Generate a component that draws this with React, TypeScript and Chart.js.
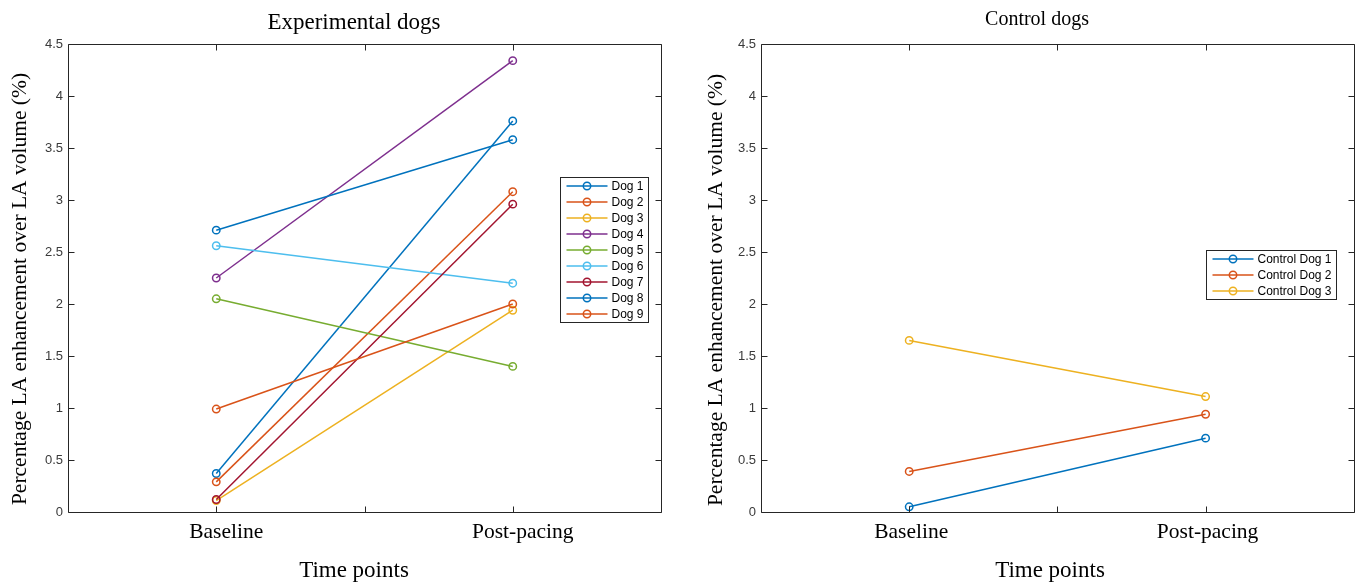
import React, { useEffect, useRef } from 'react';
import { Chart, registerables } from 'chart.js';

Chart.register(...registerables);

// ---- Data ----
const timeValues = [1, 2];
const xTickValues = [1, 1.5, 2];
const xTickLabels = ['Baseline', '', 'Post-pacing'];
const yMin = 0;
const yMax = 4.5;
const yStep = 0.5;

const expLabels = ['Dog 1', 'Dog 2', 'Dog 3', 'Dog 4', 'Dog 5', 'Dog 6', 'Dog 7', 'Dog 8', 'Dog 9'];
const expBaseline = [0.37, 0.29, 0.11, 2.25, 2.05, 2.56, 0.12, 2.71, 0.99];
const expPost = [3.76, 3.08, 1.94, 4.34, 1.4, 2.2, 2.96, 3.58, 2.0];

const ctrlLabels = ['Control Dog 1', 'Control Dog 2', 'Control Dog 3'];
const ctrlBaseline = [0.05, 0.39, 1.65];
const ctrlPost = [0.71, 0.94, 1.11];

const seriesColors = ['#0072BD', '#D95319', '#EDB120', '#7E2F8E', '#77AC30', '#4DBEEE', '#A2142F'];

const yAxisTitle = 'Percentage LA enhancement over LA volume (%)';
const xAxisTitle = 'Time points';

const SERIF = '"Liberation Serif", "Times New Roman", serif';
const SANS = '"Liberation Sans", Arial, Helvetica, sans-serif';
const AXIS_COLOR = '#262626';

const H = 585;

function buildDatasets(labels: string[], base: number[], post: number[]) {
  const n = labels.length;
  return labels.map((label, i) => {
    const color = seriesColors[i % seriesColors.length];
    return {
      label,
      data: [
        { x: timeValues[0], y: base[i] },
        { x: timeValues[1], y: post[i] },
      ],
      borderColor: color,
      borderWidth: 1.5,
      pointRadius: 3.7,
      pointHoverRadius: 3.7,
      pointBorderWidth: 1.5,
      pointBorderColor: color,
      pointBackgroundColor: 'rgba(255,255,255,0)',
      fill: false,
      tension: 0,
      clip: false as any,
      order: n - i,
    };
  });
}

const framePlugin = {
  id: 'matlabFrame',
  afterDatasetsDraw(chart: any, _args: any, opts: any) {
    const { ctx, chartArea: a, scales } = chart;
    ctx.save();
    ctx.strokeStyle = AXIS_COLOR;
    ctx.lineWidth = 1;
    const L = Math.round(a.left) + 0.5;
    const T = Math.round(a.top) + 0.5;
    const R = Math.round(a.right) + 0.5;
    const B = Math.round(a.bottom) + 0.5;
    ctx.beginPath();
    ctx.rect(L, T, R - L, B - T);
    ctx.stroke();
    const tl = 6;
    ctx.beginPath();
    for (const t of scales.x.ticks) {
      const px = Math.round(scales.x.getPixelForValue(t.value)) + 0.5;
      ctx.moveTo(px, B);
      ctx.lineTo(px, B - tl);
      ctx.moveTo(px, T);
      ctx.lineTo(px, T + tl);
    }
    for (const t of scales.y.ticks) {
      const py = Math.round(scales.y.getPixelForValue(t.value)) + 0.5;
      ctx.moveTo(L, py);
      ctx.lineTo(L + tl, py);
      ctx.moveTo(R, py);
      ctx.lineTo(R - tl, py);
    }
    ctx.stroke();

    // Legend inside axes
    const ds = chart.data.datasets;
    ctx.font = `12px ${SANS}`;
    let maxW = 0;
    ds.forEach((d: any) => {
      maxW = Math.max(maxW, ctx.measureText(d.label).width);
    });
    const rowH = 16;
    const bx = Math.round(a.left + opts.legendLeft) + 0.5;
    const by = Math.round(a.top + opts.legendTop) + 0.5;
    const bw = Math.round(51 + maxW + 5);
    const bh = rowH * ds.length + 1;
    ctx.fillStyle = '#ffffff';
    ctx.fillRect(bx, by, bw, bh);
    ctx.strokeStyle = AXIS_COLOR;
    ctx.lineWidth = 1;
    ctx.strokeRect(bx, by, bw, bh);
    ds.forEach((d: any, i: number) => {
      const cy = by + 8.5 + i * rowH;
      ctx.strokeStyle = d.borderColor;
      ctx.lineWidth = 1.5;
      ctx.beginPath();
      ctx.moveTo(bx + 6, cy);
      ctx.lineTo(bx + 47, cy);
      ctx.stroke();
      ctx.beginPath();
      ctx.arc(bx + 26.5, cy, 3.7, 0, Math.PI * 2);
      ctx.stroke();
      ctx.fillStyle = '#000000';
      ctx.textAlign = 'left';
      ctx.textBaseline = 'middle';
      ctx.fillText(d.label, bx + 51, cy + 0.5);
    });

    // Title
    ctx.fillStyle = '#000000';
    ctx.textAlign = 'center';
    ctx.textBaseline = 'middle';
    ctx.font = `${opts.titleSize}px ${SERIF}`;
    ctx.fillText(opts.title, opts.titleX, opts.titleY);

    // Axis titles
    ctx.font = `23px ${SERIF}`;
    ctx.fillText(xAxisTitle, opts.xTitleX, opts.xTitleY);
    ctx.save();
    ctx.translate(opts.yTitleX, opts.yTitleY);
    ctx.rotate(-Math.PI / 2);
    ctx.font = `21.5px ${SERIF}`;
    ctx.fillText(yAxisTitle, 0, 0);
    ctx.restore();

    ctx.restore();
  },
};

function makeConfig(p: {
  labels: string[];
  base: number[];
  post: number[];
  yAxisWidth: number;
  rightPad: number;
  labelOffset: number;
  title: string;
  titleSize: number;
  titleX: number;
  titleY: number;
  xTitleX: number;
  xTitleY: number;
  yTitleX: number;
  yTitleY: number;
  legendLeft: number;
  legendTop: number;
}) {
  return {
    type: 'line' as const,
    data: { datasets: buildDatasets(p.labels, p.base, p.post) },
    plugins: [framePlugin],
    options: {
      animation: false as const,
      responsive: false,
      devicePixelRatio: 1,
      events: [],
      layout: { padding: { top: 44, right: p.rightPad, bottom: 0, left: 0 } },
      plugins: {
        legend: { display: false },
        tooltip: { enabled: false },
        title: { display: false },
        matlabFrame: {
          title: p.title,
          titleSize: p.titleSize,
          titleX: p.titleX,
          titleY: p.titleY,
          xTitleX: p.xTitleX,
          xTitleY: p.xTitleY,
          yTitleX: p.yTitleX,
          yTitleY: p.yTitleY,
          legendLeft: p.legendLeft,
          legendTop: p.legendTop,
        },
      },
      scales: {
        x: {
          type: 'linear',
          min: 0.5,
          max: 2.5,
          afterBuildTicks: (axis: any) => {
            axis.ticks = xTickValues.map((v) => ({ value: v }));
          },
          afterFit: (s: any) => {
            s.height = 73;
          },
          ticks: {
            autoSkip: false,
            maxRotation: 0,
            padding: 7,
            labelOffset: p.labelOffset,
            color: '#000000',
            font: { family: SERIF, size: 21.5 },
            callback: (v: number) => {
              const k = xTickValues.indexOf(v);
              return k >= 0 ? xTickLabels[k] : '';
            },
          },
          grid: { display: false, drawTicks: false },
          border: { display: false },
          title: { display: false },
        },
        y: {
          type: 'linear',
          min: yMin,
          max: yMax,
          afterFit: (s: any) => {
            s.width = p.yAxisWidth;
          },
          ticks: {
            stepSize: yStep,
            padding: 5,
            color: '#3a3a3a',
            font: { family: SANS, size: 13 },
            callback: (v: number) => String(v),
          },
          grid: { display: false, drawTicks: false },
          border: { display: false },
          title: { display: false },
        },
      },
    },
  };
}

function Panel(props: { left: number; width: number; config: any }) {
  const ref = useRef<HTMLCanvasElement | null>(null);
  useEffect(() => {
    if (!ref.current) return;
    const chart = new Chart(ref.current, props.config);
    return () => chart.destroy();
  }, []);
  return (
    <canvas
      ref={ref}
      width={props.width}
      height={H}
      style={{ position: 'absolute', left: props.left, top: 0, width: props.width, height: H }}
    />
  );
}

const leftConfig = makeConfig({
  labels: expLabels,
  base: expBaseline,
  post: expPost,
  yAxisWidth: 68,
  rightPad: 39,
  labelOffset: 10,
  title: 'Experimental dogs',
  titleSize: 23,
  titleX: 354,
  titleY: 23,
  xTitleX: 354,
  xTitleY: 571,
  yTitleX: 20,
  yTitleY: 289,
  legendLeft: 492,
  legendTop: 133,
});

const rightConfig = makeConfig({
  labels: ctrlLabels,
  base: ctrlBaseline,
  post: ctrlPost,
  yAxisWidth: 61,
  rightPad: 5,
  labelOffset: 2,
  title: 'Control dogs',
  titleSize: 20,
  titleX: 337,
  titleY: 20,
  xTitleX: 350,
  xTitleY: 571,
  yTitleX: 16,
  yTitleY: 290,
  legendLeft: 445,
  legendTop: 206,
});

export default function App() {
  return (
    <div
      style={{
        position: 'fixed',
        left: 0,
        top: 0,
        width: 1359,
        height: H,
        background: '#ffffff',
        overflow: 'hidden',
      }}
    >
      <Panel left={0} width={700} config={leftConfig} />
      <Panel left={700} width={659} config={rightConfig} />
    </div>
  );
}
